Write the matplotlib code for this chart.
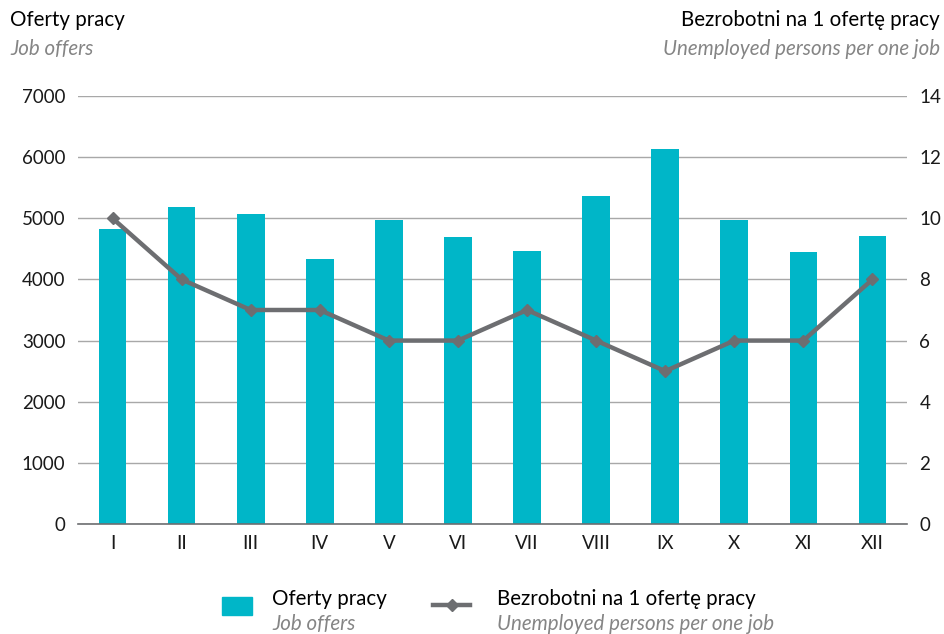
import numpy as np
import matplotlib.pyplot as plt
from matplotlib.patches import Rectangle
from matplotlib.lines import Line2D

plt.rcParams["font.family"] = ["Lato", "DejaVu Sans"]

months = ["I", "II", "III", "IV", "V", "VI", "VII", "VIII", "IX", "X", "XI", "XII"]
job_offers = [4830, 5180, 5070, 4330, 4970, 4690, 4470, 5370, 6140, 4970, 4450, 4710]
unemployed_per_offer = [10, 8, 7, 7, 6, 6, 7, 6, 5, 6, 6, 8]

bar_color = "#00B6C8"
line_color = "#6D6E71"
grey_text = "#858585"

fig = plt.figure(figsize=(9.44, 6.34), dpi=100)
ax = fig.add_axes([0.0826, 0.1735, 0.8782, 0.6751])
ax2 = ax.twinx()

x = np.arange(len(months))
ax.bar(x, job_offers, width=0.4, color=bar_color, zorder=2)
ax2.plot(x, unemployed_per_offer, color=line_color, lw=3.2, marker="D",
         markersize=6, zorder=3)

ax.set_xlim(-0.5, len(months) - 0.5)
ax.set_ylim(0, 7000)
ax.set_yticks(range(0, 7001, 1000))
ax2.set_ylim(0, 14)
ax2.set_yticks(range(0, 15, 2))
ax.set_xticks(x)
ax.set_xticklabels(months)

ax.yaxis.grid(True, color="#A8A8A8", lw=1)
ax.set_axisbelow(True)
for a in (ax, ax2):
    for s in a.spines.values():
        s.set_visible(False)
    a.tick_params(length=0, labelsize=13.5, colors="#1a1a1a")
ax.spines["bottom"].set_visible(True)
ax.spines["bottom"].set_color("#6D6E71")
ax.spines["bottom"].set_linewidth(1.2)
ax.tick_params(axis="y", pad=9)
ax.tick_params(axis="x", pad=8)
ax2.tick_params(axis="y", pad=9)

fs = 14.8
# axis titles
fig.text(10 / 944, 1 - 20 / 634, "Oferty pracy", fontsize=fs, va="center", ha="left")
fig.text(10 / 944, 1 - 49 / 634, "Job offers", fontsize=fs, va="center", ha="left",
         style="italic", color=grey_text)
fig.text(940 / 944, 1 - 20 / 634, "Bezrobotni na 1 ofertę pracy", fontsize=fs,
         va="center", ha="right")
fig.text(940 / 944, 1 - 49 / 634, "Unemployed persons per one job", fontsize=fs,
         va="center", ha="right", style="italic", color=grey_text)

# legend drawn by hand (two-line labels)
fig.patches.append(Rectangle((222 / 944, 1 - 615 / 634), 30 / 944, 18 / 634,
                             transform=fig.transFigure, color=bar_color))
fig.text(272 / 944, 1 - 599 / 634, "Oferty pracy", fontsize=fs, va="center")
fig.text(272 / 944, 1 - 624 / 634, "Job offers", fontsize=fs, va="center",
         style="italic", color=grey_text)
fig.lines.append(Line2D([433 / 944, 470 / 944], [1 - 605 / 634, 1 - 605 / 634],
                        transform=fig.transFigure, color=line_color, lw=3.2))
fig.lines.append(Line2D([451.5 / 944], [1 - 605 / 634], transform=fig.transFigure,
                        color=line_color, marker="D", markersize=6))
fig.text(497 / 944, 1 - 599 / 634, "Bezrobotni na 1 ofertę pracy", fontsize=fs,
         va="center")
fig.text(497 / 944, 1 - 624 / 634, "Unemployed persons per one job", fontsize=fs,
         va="center", style="italic", color=grey_text)

fig.savefig("out.png", dpi=100)
